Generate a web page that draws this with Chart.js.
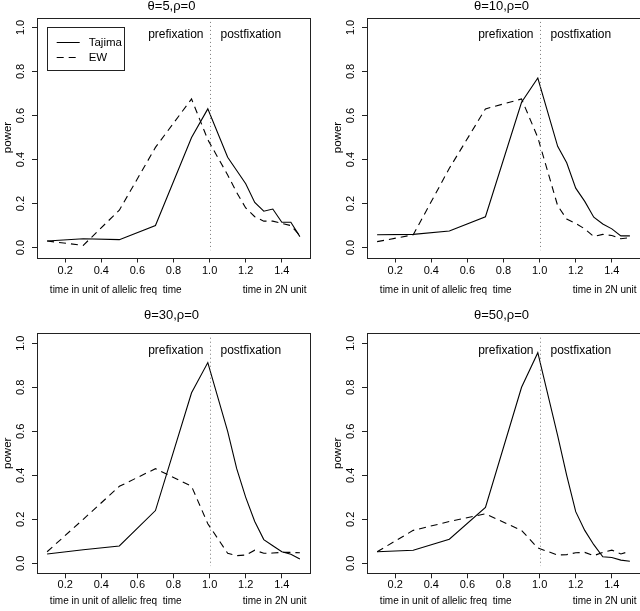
<!DOCTYPE html>
<html>
<head>
<meta charset="utf-8">
<script src="https://cdn.jsdelivr.net/npm/chart.js@4"></script>
<style>
html, body { margin: 0; padding: 0; background: #fff; }
body { width: 640px; height: 611px; position: relative; overflow: hidden; }
canvas { position: absolute; }
</style>
</head>
<body>
<canvas id="p1" width="320" height="305" style="left:0;top:0"></canvas>
<canvas id="p2" width="320" height="305" style="left:330px;top:0"></canvas>
<canvas id="p3" width="320" height="311" style="left:0;top:300px"></canvas>
<canvas id="p4" width="320" height="311" style="left:330px;top:300px"></canvas>
<script>
// time points (allelic freq time up to fixation, then 2N units)
const timePoints = [0.1, 0.3, 0.5, 0.7, 0.9, 0.99, 1.1, 1.15, 1.2, 1.25, 1.3, 1.35, 1.4, 1.45, 1.5];
const seriesNames = ['Tajima', 'EW'];
const panelTitles = ['θ=5,ρ=0', 'θ=10,ρ=0', 'θ=30,ρ=0', 'θ=50,ρ=0'];

const tajima5  = [0.03, 0.04, 0.036, 0.10, 0.50, 0.63, 0.41, 0.35, 0.29, 0.205, 0.165, 0.175, 0.115, 0.115, 0.05];
const ew5      = [0.03, 0.01, 0.17, 0.455, 0.675, 0.49, 0.33, 0.25, 0.18, 0.14, 0.12, 0.12, 0.11, 0.10, 0.055];
const tajima10 = [0.058, 0.06, 0.075, 0.14, 0.66, 0.77, 0.46, 0.385, 0.27, 0.21, 0.138, 0.107, 0.085, 0.053, 0.053];
const ew10     = [0.027, 0.058, 0.36, 0.63, 0.675, 0.5, 0.19, 0.13, 0.11, 0.085, 0.05, 0.06, 0.055, 0.04, 0.045];
const tajima30 = [0.043, 0.062, 0.079, 0.24, 0.775, 0.912, 0.6, 0.43, 0.30, 0.19, 0.108, 0.08, 0.053, 0.042, 0.02];
const ew30     = [0.053, 0.2, 0.35, 0.43, 0.35, 0.18, 0.046, 0.035, 0.038, 0.06, 0.046, 0.047, 0.05, 0.05, 0.048];
const tajima50 = [0.053, 0.06, 0.11, 0.254, 0.80, 0.957, 0.58, 0.40, 0.235, 0.15, 0.085, 0.03, 0.027, 0.015, 0.01];
const ew50     = [0.053, 0.15, 0.19, 0.225, 0.15, 0.07, 0.038, 0.04, 0.048, 0.05, 0.035, 0.05, 0.06, 0.043, 0.055];

const xTickValues = [0.2, 0.4, 0.6, 0.8, 1.0, 1.2, 1.4];
const yTickValues = [0, 0.2, 0.4, 0.6, 0.8, 1.0];
const fixationTime = 1.0;

Chart.defaults.font.family = "'Liberation Sans', Arial, Helvetica, sans-serif";
Chart.defaults.color = '#000';

const FONT = "'Liberation Sans', Arial, Helvetica, sans-serif";

// draws box, dotted fixation line, titles, text labels and legend
const decorations = {
    id: 'decorations',
    afterDraw(chart, args, opts) {
        const ctx = chart.ctx;
        const a = chart.chartArea;
        const x = chart.scales.x;
        const y = chart.scales.y;
        ctx.save();

        ctx.strokeStyle = '#222';
        ctx.lineWidth = 1;
        ctx.setLineDash([]);
        ctx.strokeRect(Math.round(a.left) + 0.5, Math.round(a.top) + 0.5,
            Math.round(a.right - a.left), Math.round(a.bottom - a.top));

        const fx = Math.round(x.getPixelForValue(fixationTime)) + 0.5;
        ctx.strokeStyle = '#777';
        ctx.setLineDash([1, 3]);
        ctx.beginPath();
        ctx.moveTo(fx, y.getPixelForValue(1.025));
        ctx.lineTo(fx, y.getPixelForValue(-0.012));
        ctx.stroke();
        ctx.setLineDash([]);

        ctx.fillStyle = '#000';
        ctx.textBaseline = 'middle';

        ctx.font = '13px ' + FONT;
        ctx.textAlign = 'center';
        ctx.fillText(opts.title, (a.left + a.right) / 2 - 2, opts.titleY);

        ctx.font = '12px ' + FONT;
        ctx.textAlign = 'right';
        ctx.fillText('prefixation', fx - 7, a.top + 17.5);
        ctx.textAlign = 'left';
        ctx.fillText('postfixation', fx + 10, a.top + 17.5);

        ctx.font = '10px ' + FONT;
        ctx.textAlign = 'center';
        ctx.fillText('time in unit of allelic freq  time', x.getPixelForValue(0.48), a.bottom + opts.subGap);
        ctx.fillText('time in 2N unit', x.getPixelForValue(1.36), a.bottom + opts.subGap);

        if (opts.legend) {
            const lx = a.left + 9.7, ly = a.top + 9.2;
            ctx.strokeStyle = '#222';
            ctx.strokeRect(Math.round(lx) + 0.5, Math.round(ly) + 0.5, 77, 43);
            ctx.font = '11.5px ' + FONT;
            ctx.textAlign = 'left';
            chart.data.datasets.forEach((ds, i) => {
                const rowY = Math.round(ly + 15 + i * 15) + 0.5;
                ctx.strokeStyle = '#000';
                ctx.setLineDash(ds.borderDash || []);
                ctx.beginPath();
                ctx.moveTo(lx + 10, rowY);
                ctx.lineTo(lx + 33, rowY);
                ctx.stroke();
                ctx.setLineDash([]);
                ctx.fillText(ds.label, lx + 42, rowY);
            });
        }
        ctx.restore();
    }
};

function toPoints(values) {
    return timePoints.map((t, i) => ({ x: t, y: values[i] }));
}

function makePanel(id, title, tajima, ew, layout) {
    const canvas = document.getElementById(id);
    const H = canvas.height;
    return new Chart(canvas, {
        type: 'line',
        data: {
            datasets: [{
                label: seriesNames[0],
                data: toPoints(tajima),
                borderColor: '#000',
                borderWidth: 1.1,
                pointRadius: 0,
                tension: 0,
                fill: false
            }, {
                label: seriesNames[1],
                data: toPoints(ew),
                borderColor: '#000',
                borderWidth: 1.1,
                borderDash: [7, 5],
                pointRadius: 0,
                tension: 0,
                fill: false
            }]
        },
        options: {
            responsive: false,
            animation: false,
            events: [],
            layout: { padding: { top: layout.boxTop, right: 10, left: 0, bottom: 0 } },
            scales: {
                x: {
                    type: 'linear',
                    min: 0.044,
                    max: 1.556,
                    afterBuildTicks: s => { s.ticks = xTickValues.map(v => ({ value: v })); },
                    afterFit: s => { s.height = H - layout.boxBottom; },
                    ticks: {
                        callback: v => v.toFixed(1),
                        font: { size: 11 },
                        color: '#000',
                        padding: layout.tickPad,
                        maxRotation: 0,
                        autoSkip: false
                    },
                    grid: { drawOnChartArea: false, tickLength: 5, color: '#222' },
                    border: { display: false }
                },
                y: {
                    type: 'linear',
                    min: -0.045,
                    max: 1.045,
                    afterBuildTicks: s => { s.ticks = yTickValues.map(v => ({ value: v })); },
                    afterFit: s => { s.width = 37; },
                    ticks: {
                        callback: v => v.toFixed(1),
                        font: { size: 11 },
                        color: '#000',
                        minRotation: 90,
                        maxRotation: 90,
                        crossAlign: 'center',
                        padding: 3,
                        autoSkip: false
                    },
                    grid: { drawOnChartArea: false, tickLength: 5, color: '#222' },
                    border: { display: false },
                    title: {
                        display: true,
                        text: 'power',
                        font: { size: 11.5 },
                        color: '#000',
                        padding: { top: 1, bottom: 0 }
                    }
                }
            },
            plugins: {
                legend: { display: false },
                title: { display: false },
                tooltip: { enabled: false },
                decorations: {
                    title: title,
                    titleY: layout.titleY,
                    subGap: layout.subGap,
                    legend: layout.legend
                }
            }
        },
        plugins: [decorations]
    });
}

const topRow = { boxTop: 17.5, boxBottom: 257.5, titleY: 6, subGap: 32.5, tickPad: 2 };
const bottomRow = { boxTop: 33.3, boxBottom: 273.3, titleY: 15, subGap: 28.4, tickPad: 0 };

makePanel('p1', panelTitles[0], tajima5, ew5, Object.assign({ legend: true }, topRow));
makePanel('p2', panelTitles[1], tajima10, ew10, Object.assign({ legend: false }, topRow));
makePanel('p3', panelTitles[2], tajima30, ew30, Object.assign({ legend: false }, bottomRow));
makePanel('p4', panelTitles[3], tajima50, ew50, Object.assign({ legend: false }, bottomRow));
</script>
</body>
</html>
